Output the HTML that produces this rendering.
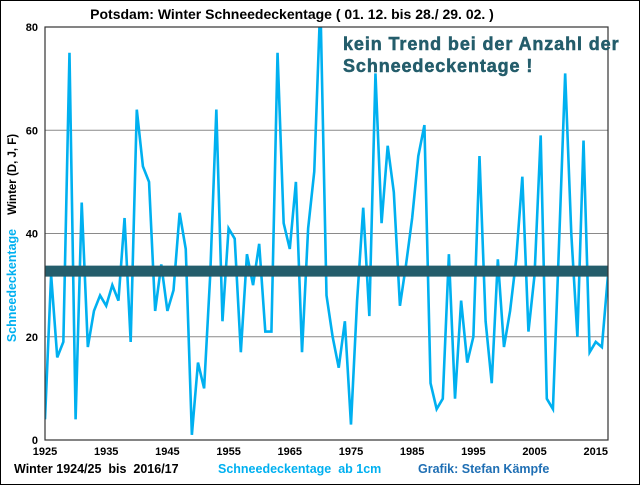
<!DOCTYPE html>
<html><head><meta charset="utf-8"><style>
body{margin:0;background:#fff;}
svg{display:block;font-family:"Liberation Sans",Arial,sans-serif;}
text{white-space:pre;}
</style></head><body>
<svg id="chart" width="640" height="485" viewBox="0 0 640 485">
<rect x="0.5" y="0.5" width="639" height="484" fill="#fff" stroke="#000"/>
<text x="292" y="19" text-anchor="middle" font-size="14" font-weight="bold" fill="#000">Potsdam: Winter Schneedeckentage ( 01. 12. bis 28./ 29. 02. )</text>
<g id="grid"></g>
<g id="yticks"></g>
<g id="xticks"></g>
<g id="series"></g>
<text x="343" y="50" font-size="18" font-weight="bold" letter-spacing="0.9" fill="#245d6b" stroke="#245d6b" stroke-width="0.5">kein Trend bei der Anzahl der</text>
<text x="343" y="72" font-size="18" font-weight="bold" letter-spacing="0.9" fill="#245d6b" stroke="#245d6b" stroke-width="0.5">Schneedeckentage !</text>
<text transform="translate(16,238) rotate(-90)" text-anchor="middle" font-size="12.5" font-weight="bold"><tspan fill="#00b0f0">Schneedeckentage</tspan><tspan fill="#000" dx="14" font-size="11.5">Winter (D, J, F)</tspan></text>
<text x="14" y="473" font-size="12.5" font-weight="bold" fill="#000">Winter 1924/25  bis  2016/17</text>
<text x="218" y="473" font-size="12.5" font-weight="bold" fill="#00b0f0">Schneedeckentage  ab 1cm</text>
<text x="418" y="473" font-size="12.5" font-weight="bold" fill="#1f6fb4">Grafik: Stefan Kämpfe</text>
</svg>
<script>
const years=[];for(let y=1925;y<=2017;y++)years.push(y);
const snowDays=[4,32,16,19,75,4,46,18,25,28,26,30,27,43,19,64,53,50,25,34,25,29,44,37,1,15,10,32,64,23,41,39,17,36,30,38,21,21,75,42,37,50,17,41,52,85,28,20,14,23,3,27,45,24,71,42,57,48,26,34,43,55,61,11,6,8,36,8,27,15,20,55,23,11,35,18,25,35,51,21,32,59,8,6,38,71,40,20,58,17,19,18,32];
const trendValue=[32.7,32.7];
const yTicks=[0,20,40,60,80];
const xTicks=[1925,1935,1945,1955,1965,1975,1985,1995,2005,2015];
const L=45,R=608,T=27,B=440;
const xs=y=>L+(y-1925)*(R-L)/(2017-1925);
const ys=v=>B-v*(B-T)/80;
const NS="http://www.w3.org/2000/svg";
function mk(t,a,p){const e=document.createElementNS(NS,t);for(const k in a)e.setAttribute(k,a[k]);p.appendChild(e);return e;}
const grid=document.getElementById('grid'),yt=document.getElementById('yticks'),xt=document.getElementById('xticks'),se=document.getElementById('series');
yTicks.forEach(v=>{
 if(v>0&&v<80){const g=mk('line',{x1:L,x2:R,y1:ys(v),y2:ys(v),stroke:'#8a8a8a','stroke-width':1},grid);
 
 }
 const t=mk('text',{x:L-7,y:ys(v)+4,'text-anchor':'end','font-size':11,'font-weight':'bold'},yt);t.textContent=v;
 
 
});
xTicks.forEach(y=>{
 const t=mk('text',{x:xs(y),y:455,'text-anchor':'middle','font-size':11,'font-weight':'bold'},xt);t.textContent=y;
 
 
});
const clip=mk('clipPath',{id:'pc'},se);mk('rect',{x:L,y:T,width:R-L,height:B-T},clip);
const line=mk('polyline',{points:years.map((y,i)=>xs(y)+','+ys(snowDays[i])).join(' '),fill:'none',stroke:'#00b0f0','stroke-width':2.6,'stroke-linejoin':'miter','clip-path':'url(#pc)'},se);


const tr=mk('line',{x1:L,x2:R,y1:ys(trendValue[0]),y2:ys(trendValue[1]),stroke:'#245d6b','stroke-width':11},se);


const fr=mk('rect',{x:L,y:T,width:R-L,height:B-T,fill:'none',stroke:'#333','stroke-width':1.2},se);


</script>
</body></html>
